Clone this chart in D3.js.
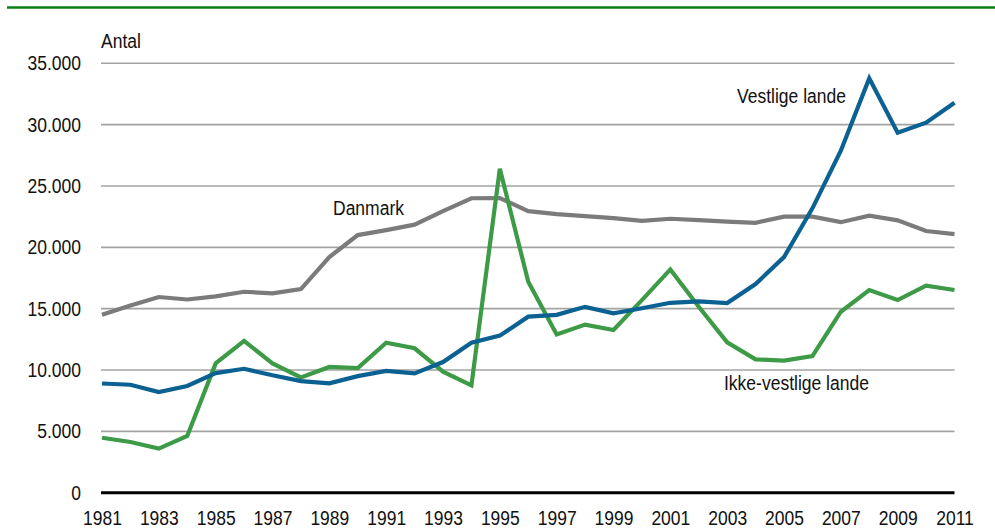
<!DOCTYPE html>
<html><head><meta charset="utf-8">
<script src="https://cdn.jsdelivr.net/npm/d3@7"></script>
<style>
html,body{margin:0;padding:0;background:#fff;}
text{font-family:"Liberation Sans",Arial,sans-serif;fill:#111;}
</style></head>
<body>
<svg id="c" width="995" height="528"></svg>
<script>
const years = d3.range(1981, 2012);
const danmark = [14500,15250,15950,15750,16000,16380,16250,16600,19200,21000,21400,21850,22950,24000,24020,22950,22700,22550,22380,22150,22330,22220,22090,22000,22500,22500,22050,22580,22200,21330,21080];
const vestlige = [8900,8800,8200,8700,9750,10100,9570,9100,8920,9500,9930,9730,10650,12230,12800,14350,14500,15150,14620,15030,15480,15600,15460,17010,19200,23180,27880,33770,29350,30160,31790];
const ikkeVestlige = [4480,4130,3590,4620,10540,12370,10540,9400,10250,10160,12230,11770,9860,8750,26400,17200,12900,13700,13260,15700,18200,15160,12250,10870,10760,11140,14750,16520,15700,16870,16520];
const yTicks = [0,5000,10000,15000,20000,25000,30000,35000];
const xTickYears = d3.range(1981, 2012, 2);
const seriesNames = ["Danmark","Vestlige lande","Ikke-vestlige lande"];

const svg = d3.select("#c");
const x = d3.scaleLinear().domain([1981, 2011]).range([102, 954.5]);
const y = d3.scaleLinear().domain([0, 35000]).range([492.7, 63.3]);

// top green rule
svg.append("line").attr("x1",7).attr("x2",995).attr("y1",7.5).attr("y2",7.5)
  .attr("stroke","#0b7f12").attr("stroke-width",2.5);

// gridlines
svg.append("g").selectAll("line").data(yTicks.filter(d=>d>0)).join("line")
  .attr("x1",101).attr("x2",954.5).attr("y1",d=>y(d)).attr("y2",d=>y(d))
  .attr("stroke","#a3a3a3").attr("stroke-width",1.6);

// y axis labels
const fmt = d => d===0 ? "0" : d3.format(",")(d).replace(/,/g,".");
const yAxis = d3.axisLeft(y).tickValues(yTicks).tickSize(0).tickPadding(0).tickFormat(fmt);
const ya = svg.append("g").attr("transform","translate(81,0)").call(yAxis);
ya.select(".domain").remove();
ya.selectAll("text").attr("font-size",20).attr("font-family",null).attr("fill","#111");

// x axis labels
const xAxis = d3.axisBottom(x).tickValues(xTickYears).tickSize(0).tickPadding(0).tickFormat(d3.format("d"));
const xa = svg.append("g").attr("transform","translate(0,511)").call(xAxis);
xa.select(".domain").remove();
xa.selectAll("text").attr("font-size",20).attr("font-family",null).attr("fill","#111").attr("dy","0.71em");

// baseline
svg.append("line").attr("x1",101).attr("x2",954.5).attr("y1",y(0)).attr("y2",y(0))
  .attr("stroke","#000").attr("stroke-width",3);

// lines
const line = d3.line().x((d,i)=>x(years[i])).y(d=>y(d));
const data = [
  {v: danmark, c:"#7b7b7b"},
  {v: ikkeVestlige, c:"#3d9b47"},
  {v: vestlige, c:"#0b6191"}
];
svg.append("g").selectAll("path").data(data).join("path")
  .attr("d", d=>line(d.v)).attr("fill","none").attr("stroke",d=>d.c)
  .attr("stroke-width",4.2).attr("stroke-linejoin","miter").attr("stroke-linecap","butt");

// labels
svg.append("text").attr("x",101).attr("y",48).attr("font-size",20).text("Antal");
svg.append("text").attr("x",333).attr("y",215).attr("font-size",20).text(seriesNames[0]);
svg.append("text").attr("x",737).attr("y",103).attr("font-size",20).text(seriesNames[1]);
svg.append("text").attr("x",724).attr("y",390).attr("font-size",20).text(seriesNames[2]);

// condense all text to mimic narrow typeface
svg.selectAll("text").each(function(){
  const w = this.getComputedTextLength();
  d3.select(this).attr("textLength", (w*0.875).toFixed(1)).attr("lengthAdjust","spacingAndGlyphs");
});
</script>
</body></html>
